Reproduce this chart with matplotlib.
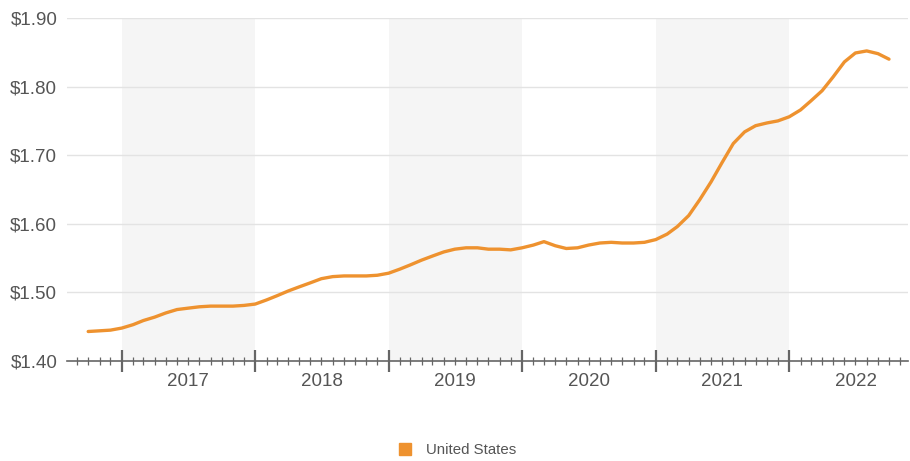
import matplotlib
matplotlib.use("Agg")
import matplotlib.pyplot as plt
import matplotlib.dates as mdates
from matplotlib.lines import Line2D
import pandas as pd
from datetime import datetime

plt.rcParams['font.family'] = ['Liberation Sans', 'DejaVu Sans']

# Monthly series, Oct 2016 .. Oct 2022 (USD)
series_name = "United States"
start_month = "2016-10-01"
values = [
    1.443, 1.444, 1.445,
    1.448, 1.453, 1.459, 1.464, 1.470, 1.475, 1.477, 1.479, 1.480, 1.480, 1.480, 1.481,
    1.483, 1.489, 1.495, 1.502, 1.508, 1.514, 1.520, 1.523, 1.524, 1.524, 1.524, 1.525,
    1.528, 1.534, 1.540, 1.547, 1.553, 1.559, 1.563, 1.565, 1.565, 1.563, 1.563, 1.562,
    1.565, 1.569, 1.574, 1.568, 1.564, 1.565, 1.569, 1.572, 1.573, 1.572, 1.572, 1.573,
    1.577, 1.585, 1.596, 1.612, 1.635, 1.661, 1.689, 1.717, 1.734, 1.743, 1.747, 1.750,
    1.756, 1.766, 1.779, 1.794, 1.814, 1.836, 1.849, 1.852, 1.848, 1.840,
]
dates = pd.date_range(start_month, periods=len(values), freq="MS")

years = [2017, 2018, 2019, 2020, 2021, 2022]
shaded_years = [2017, 2019, 2021]
y_ticks = [1.40, 1.50, 1.60, 1.70, 1.80, 1.90]

line_color = "#EE922F"
text_color = "#555555"

fig = plt.figure(figsize=(9.10, 4.61), dpi=100)
ax = fig.add_axes([67 / 910, 1 - 361 / 461, (908 - 67) / 910, (361 - 18) / 461])

# alternating year bands
for yr in shaded_years:
    ax.axvspan(datetime(yr, 1, 1), datetime(yr + 1, 1, 1), color="#f5f5f5", zorder=0, lw=0)

# horizontal grid
for v in y_ticks[1:]:
    ax.axhline(v, color="#e3e3e3", lw=1.0, zorder=1)

ax.plot(dates, values, color=line_color, lw=2.4, solid_capstyle="round",
        solid_joinstyle="round", zorder=3)

ax.set_xlim(datetime(2016, 8, 4), datetime(2022, 11, 22))
ax.set_ylim(1.40, 1.90)

ax.set_yticks(y_ticks)
ax.set_yticklabels([f"${v:.2f}" for v in y_ticks])
ax.tick_params(axis="y", length=0, pad=7, labelsize=13.5, labelcolor=text_color)

ax.xaxis.set_major_locator(mdates.YearLocator())
ax.xaxis.set_minor_locator(mdates.MonthLocator())
ax.xaxis.set_major_formatter(plt.NullFormatter())
ax.tick_params(axis="x", which="major", direction="inout", length=16, width=1.6, color="#666666")
ax.tick_params(axis="x", which="minor", direction="inout", length=6, width=0.9, color="#666666")

for side in ["top", "right", "left"]:
    ax.spines[side].set_visible(False)
ax.spines["bottom"].set_color("#666666")
ax.spines["bottom"].set_linewidth(1.2)
ax.spines["bottom"].set_zorder(4)

# year labels centered in each year
for yr in years:
    ax.annotate(str(yr), xy=(datetime(yr, 7, 2), 0), xycoords=("data", "axes fraction"),
                xytext=(0, -14.5), textcoords="offset points", ha="center", va="center",
                fontsize=13.5, color=text_color)

handle = Line2D([], [], marker="s", linestyle="none", markersize=9,
                markerfacecolor=line_color, markeredgecolor=line_color)
fig.legend([handle], [series_name], loc="center", bbox_to_anchor=(0.502, 0.024),
           frameon=False, fontsize=10.8, labelcolor=text_color, handletextpad=0.9,
           handlelength=1.0)

fig.savefig("out.png", dpi=100)
